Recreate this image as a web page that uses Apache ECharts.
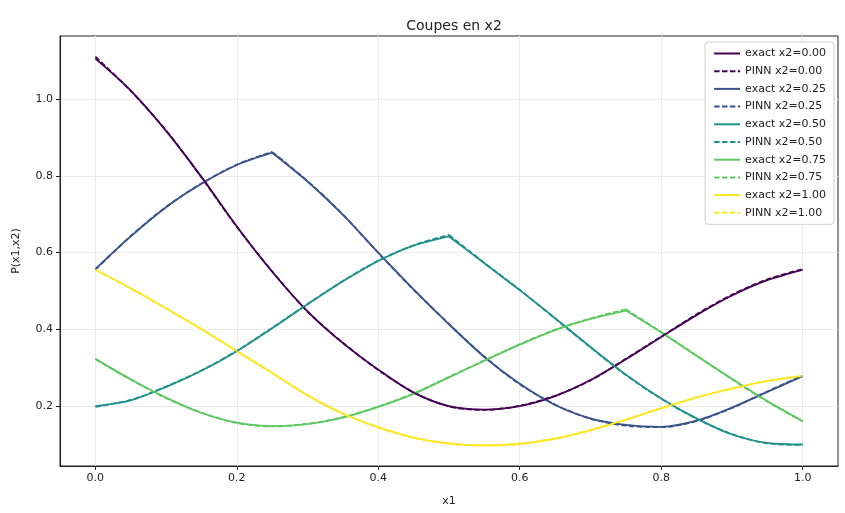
<!DOCTYPE html>
<html>
<head>
<meta charset="utf-8">
<script src="https://cdn.jsdelivr.net/npm/echarts@6/dist/echarts.min.js"></script>
<style>html,body{margin:0;padding:0;background:#fff}#c{width:845px;height:513px}</style>
</head>
<body>
<div id="c"></div>
<script>
const x1 = [0,0.05,0.1,0.15,0.2,0.25,0.3,0.35,0.4,0.45,0.5,0.55,0.6,0.65,0.7,0.75,0.8,0.85,0.9,0.95,1.0];
const xTicks = [0,0.2,0.4,0.6,0.8,1.0];
const yTicks = [0.2,0.4,0.6,0.8,1.0];
const x2Labels = ['0.00','0.25','0.50','0.75','1.00'];
// x1 value where each slice has its corner (null = none)
const peakX = [null, 0.25, 0.5, 0.75, null];

const exact000 = [1.105,1.022,0.917,0.797,0.668,0.55,0.447,0.364,0.295,0.235,0.2,0.191,0.2,0.226,0.268,0.322,0.38,0.437,0.488,0.528,0.555];
const pinn000  = [1.11,1.021,0.918,0.796,0.667,0.551,0.446,0.365,0.294,0.236,0.199,0.19,0.201,0.227,0.267,0.323,0.381,0.439,0.49,0.53,0.557];
const exact025 = [0.557,0.642,0.718,0.779,0.828,0.86,0.785,0.698,0.6,0.504,0.413,0.328,0.258,0.203,0.168,0.151,0.146,0.162,0.196,0.237,0.278];
const pinn025  = [0.555,0.643,0.719,0.78,0.829,0.862,0.786,0.699,0.599,0.503,0.414,0.329,0.257,0.204,0.167,0.149,0.145,0.161,0.195,0.238,0.279];
const exact050 = [0.2,0.215,0.25,0.292,0.343,0.403,0.465,0.525,0.578,0.618,0.642,0.572,0.502,0.429,0.354,0.282,0.22,0.168,0.126,0.104,0.1];
const pinn050  = [0.198,0.216,0.251,0.293,0.344,0.404,0.466,0.526,0.579,0.619,0.646,0.573,0.503,0.428,0.353,0.281,0.219,0.167,0.127,0.103,0.099];
const exact075 = [0.323,0.27,0.222,0.182,0.157,0.148,0.153,0.17,0.198,0.232,0.275,0.318,0.36,0.398,0.427,0.449,0.392,0.331,0.271,0.213,0.161];
const pinn075  = [0.322,0.269,0.221,0.183,0.156,0.147,0.154,0.171,0.199,0.233,0.276,0.319,0.361,0.399,0.428,0.452,0.393,0.332,0.27,0.212,0.16];
const exact100 = [0.555,0.507,0.455,0.4,0.343,0.286,0.228,0.18,0.145,0.118,0.103,0.098,0.102,0.115,0.137,0.164,0.194,0.222,0.246,0.265,0.278];
const pinn100  = [0.556,0.506,0.454,0.401,0.344,0.287,0.229,0.181,0.144,0.117,0.102,0.097,0.101,0.116,0.138,0.165,0.195,0.223,0.245,0.266,0.279];

const exactSets = [exact000, exact025, exact050, exact075, exact100];
const pinnSets = [pinn000, pinn025, pinn050, pinn075, pinn100];
const colors = ['#440154','#3b528b','#21918c','#5ec962','#fde725'];

function pieces(vals, px) {
  const pts = x1.map((x, j) => [x, vals[j]]);
  if (px === null) return [pts];
  const k = x1.indexOf(px);
  return [pts.slice(0, k + 1), pts.slice(k)];
}

const series = [];
const legendNames = [];
for (let i = 0; i < 5; i++) {
  const en = 'exact x2=' + x2Labels[i], pn = 'PINN x2=' + x2Labels[i];
  legendNames.push(en, pn);
  pieces(exactSets[i], peakX[i]).forEach(d => series.push({
    name: en, type: 'line', symbol: 'none', smooth: 0.3, data: d,
    lineStyle: { color: colors[i], width: 1.8 }, itemStyle: { color: colors[i] }, z: 2
  }));
  pieces(pinnSets[i], peakX[i]).forEach(d => series.push({
    name: pn, type: 'line', symbol: 'none', smooth: 0.3, data: d,
    lineStyle: { color: colors[i], width: 1.8, type: [5.5, 2.4] }, itemStyle: { color: colors[i] }, z: 3
  }));
}

const font = 'DejaVu Sans';
const chart = echarts.init(document.getElementById('c'), null, { renderer: 'canvas' });
chart.setOption({
  animation: false,
  backgroundColor: '#fff',
  title: { text: 'Coupes en x2', left: 449, top: 14, textAlign: 'center',
    textStyle: { fontFamily: font, fontSize: 14, fontWeight: 'normal', color: '#222' } },
  grid: { left: 60, right: 7, top: 36, bottom: 47, show: true, borderColor: '#222', borderWidth: 1, containLabel: false },
  legend: {
    orient: 'vertical', right: 11, top: 42, itemWidth: 26, itemHeight: 12, itemGap: 6.7,
    backgroundColor: '#fff', borderColor: '#d0d0d0', borderWidth: 1, borderRadius: 3, padding: [6, 8, 6, 8],
    itemStyle: { opacity: 0 },
    textStyle: { fontFamily: font, fontSize: 11, color: '#222' },
    data: legendNames
  },
  xAxis: {
    type: 'value', min: -0.05, max: 1.05,
    name: 'x1', nameLocation: 'middle', nameGap: 30,
    nameTextStyle: { fontFamily: font, fontSize: 11, color: '#222' },
    axisLine: { show: true, onZero: false, lineStyle: { color: '#222' } },
    axisTick: { show: true, length: 4, customValues: xTicks, lineStyle: { color: '#222' } },
    axisLabel: { customValues: xTicks, formatter: v => v.toFixed(1), fontFamily: font, fontSize: 11, color: '#222', margin: 7 },
    splitLine: { show: true, lineStyle: { color: '#ebebeb', width: 1 } }
  },
  yAxis: {
    type: 'value', min: 0.044, max: 1.164,
    name: 'P(x1,x2)', nameLocation: 'middle', nameGap: 38,
    nameTextStyle: { fontFamily: font, fontSize: 11, color: '#222' },
    axisLine: { show: true, onZero: false, lineStyle: { color: '#222' } },
    axisTick: { show: true, length: 4, customValues: yTicks, lineStyle: { color: '#222' } },
    axisLabel: { customValues: yTicks, formatter: v => v.toFixed(1), fontFamily: font, fontSize: 11, color: '#222', margin: 7 },
    splitLine: { show: true, lineStyle: { color: '#ebebeb', width: 1 } }
  },
  series: series
});
</script>
</body>
</html>
